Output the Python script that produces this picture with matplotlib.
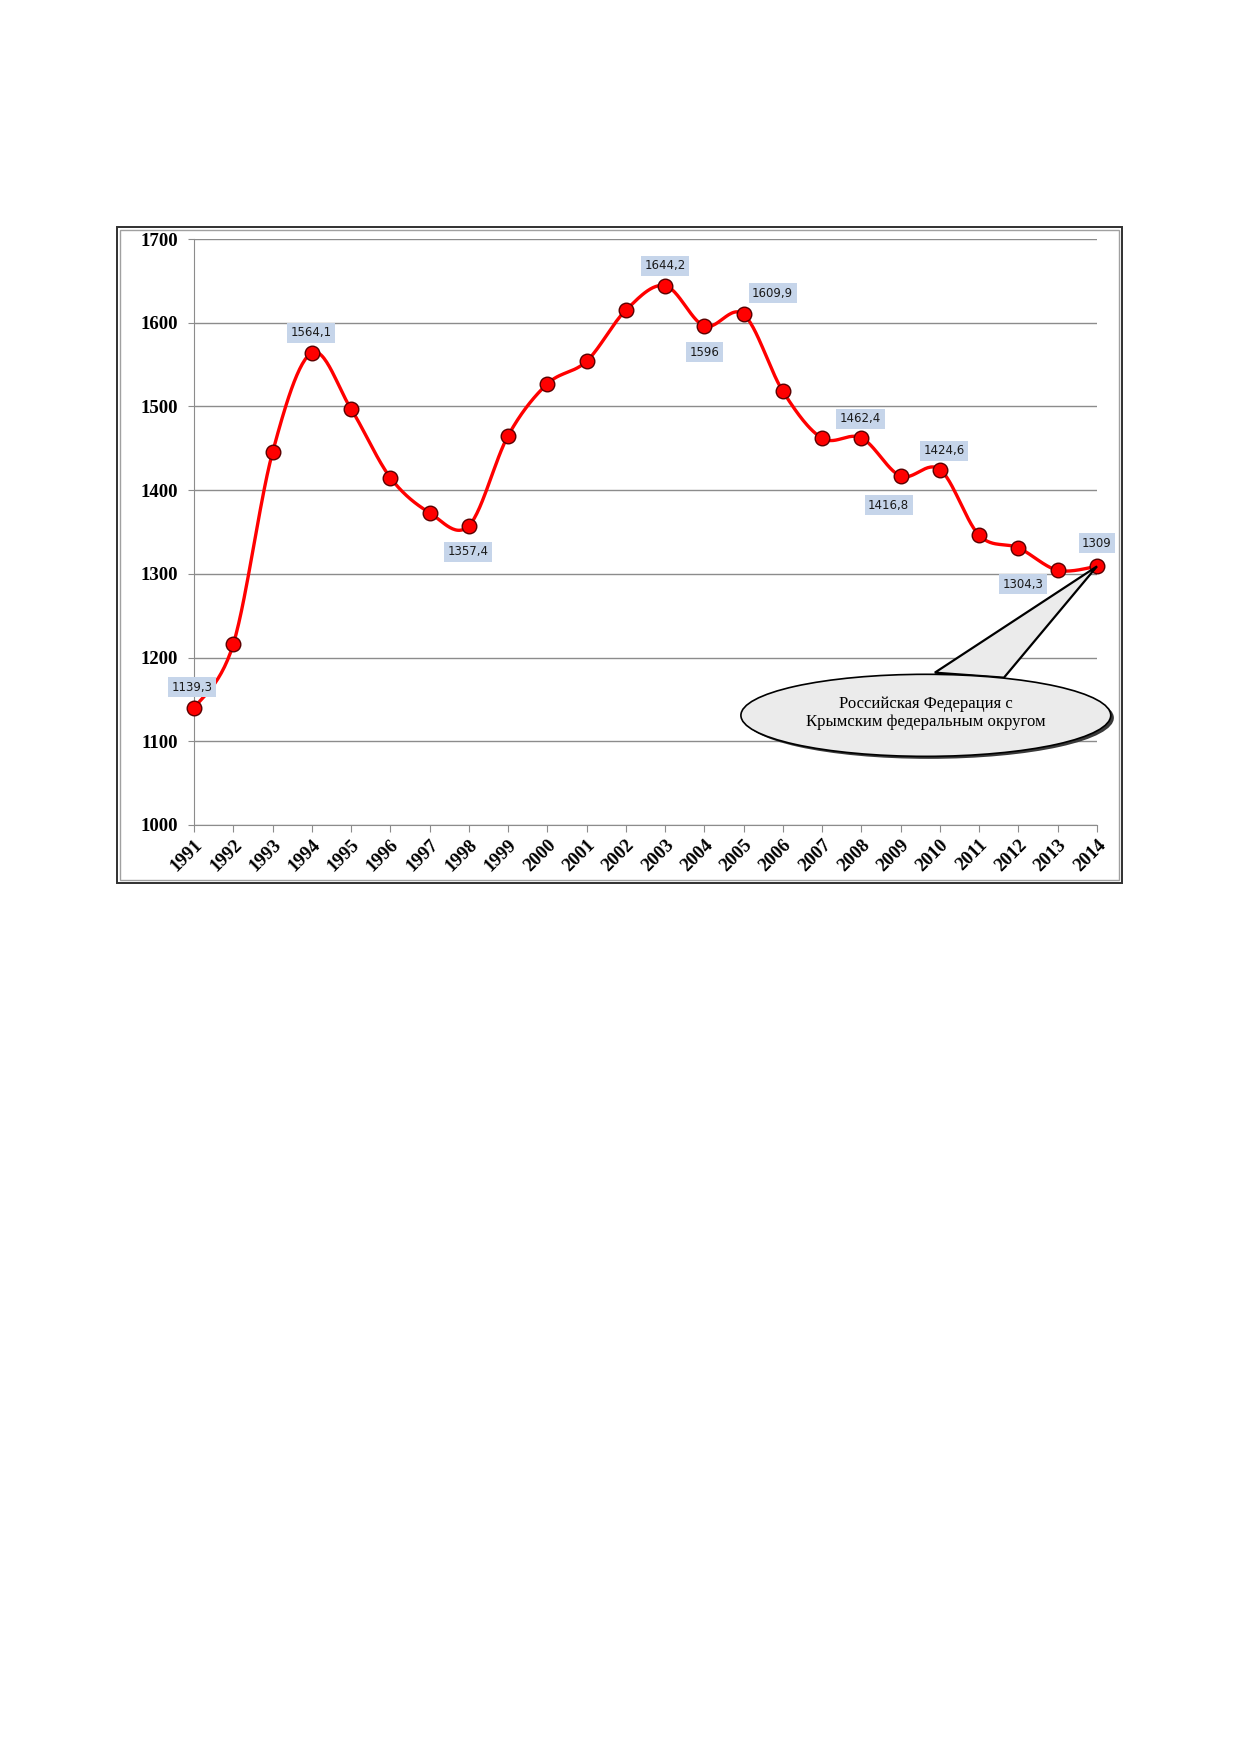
import numpy as np
import matplotlib
matplotlib.use("Agg")
import matplotlib.pyplot as plt
from matplotlib.patches import Rectangle, Ellipse, Polygon

# годы и значения (тыс.)
years = list(range(1991, 2015))
values = [1139.3, 1216, 1445, 1564.1, 1497, 1415, 1373, 1357.4, 1465, 1527,
          1554, 1615, 1644.2, 1596, 1609.9, 1518, 1462, 1462.4, 1416.8, 1424.6,
          1346, 1331, 1304.3, 1309]

# подписанные точки
label_years = [1991, 1994, 1998, 2003, 2004, 2005, 2008, 2009, 2010, 2013, 2014]
label_texts = ["1139,3", "1564,1", "1357,4", "1644,2", "1596", "1609,9",
               "1462,4", "1416,8", "1424,6", "1304,3", "1309"]
label_offsets = [(-2, 21), (-1, 20), (-1, -26), (0, 20), (0, -26), (29, 21),
                 (-1, 19), (-12, -29), (4, 19), (-35, -14), (0, 23)]

callout_text = "Российская Федерация с\nКрымским федеральным округом"


def smooth_curve(x, y, n=30):
    # сглаживание как в Excel (кривые Безье через соседние точки)
    x = np.asarray(x, float)
    y = np.asarray(y, float)
    px = np.concatenate([[x[0]], x, [x[-1]]])
    py = np.concatenate([[y[0]], y, [y[-1]]])
    xs, ys = [], []
    t = np.linspace(0, 1, n)
    for i in range(1, len(px) - 2):
        p0 = np.array([px[i], py[i]])
        p3 = np.array([px[i + 1], py[i + 1]])
        b1 = p0 + (np.array([px[i + 1], py[i + 1]]) - np.array([px[i - 1], py[i - 1]])) / 6
        b2 = p3 - (np.array([px[i + 2], py[i + 2]]) - np.array([px[i], py[i]])) / 6
        c = ((1 - t) ** 3)[:, None] * p0 + (3 * (1 - t) ** 2 * t)[:, None] * b1 \
            + (3 * (1 - t) * t ** 2)[:, None] * b2 + (t ** 3)[:, None] * p3
        xs.append(c[:, 0])
        ys.append(c[:, 1])
    return np.concatenate(xs), np.concatenate(ys)


fig = plt.figure(figsize=(12.39, 17.52), dpi=100)
W, H = 1239, 1752

# рамка диаграммы
fig.patches.append(Rectangle((117 / W, 1 - 883 / H), 1005 / W, 656 / H,
                             transform=fig.transFigure, fill=False,
                             edgecolor="#303030", lw=1.4))
fig.patches.append(Rectangle((120 / W, 1 - 880 / H), 999 / W, 650 / H,
                             transform=fig.transFigure, fill=False,
                             edgecolor="#a0a0a0", lw=1.0))

ax = fig.add_axes([194 / W, 1 - 825 / H, 903 / W, 586 / H])
ax.set_xlim(1991, 2014)
ax.set_ylim(1000, 1700)
ax.set_yticks(range(1000, 1701, 100))
ax.set_xticks(years)
ax.grid(axis="y", color="#8c8c8c", lw=1.0)
ax.set_axisbelow(True)
for s in ["top", "right"]:
    ax.spines[s].set_visible(False)
ax.spines["left"].set_color("#8c8c8c")
ax.spines["bottom"].set_color("#8c8c8c")
ax.tick_params(axis="y", length=4.5, color="#8c8c8c", pad=7)
ax.tick_params(axis="x", length=5, color="#8c8c8c", pad=3)

for lab in ax.get_yticklabels():
    lab.set_fontfamily("Liberation Serif")
    lab.set_fontweight("bold")
    lab.set_fontsize(13.5)
ax.set_xticklabels([str(y) for y in years], rotation=45, ha="right",
                   rotation_mode="anchor", fontfamily="Liberation Serif",
                   fontweight="bold", fontsize=13.5)

sx, sy = smooth_curve(years, values)
ax.plot(sx, sy, color="#ff0000", lw=2.4, zorder=3, clip_on=False)
ax.plot(years, values, "o", color="#ff0000", markeredgecolor="#5a0000",
        markeredgewidth=1.0, markersize=10.5, zorder=4, clip_on=False)

for yr, txt, (dx, dy) in zip(label_years, label_texts, label_offsets):
    v = values[years.index(yr)]
    ax.annotate(txt, (yr, v), xytext=(dx, dy), textcoords="offset pixels",
                ha="center", va="center", fontsize=8.5, color="#1a1a1a",
                family="DejaVu Sans", zorder=6,
                bbox=dict(boxstyle="square,pad=0.3", fc="#c6d5ea", ec="none"))

# выноска
tip = (2014, values[-1])
ax.add_patch(Polygon([(2009.87, 1182), tip, (2011.63, 1176)], closed=True,
                     fc="#ebebeb", ec="black", lw=1.6, zorder=5, clip_on=False))
ax.add_patch(Ellipse((2009.72, 1128), 9.42, 98, fc="#3a3a3a", ec="none",
                     zorder=5, clip_on=False))
ax.add_patch(Ellipse((2009.64, 1131), 9.42, 98, fc="#ebebeb", ec="black",
                     lw=1.2, zorder=5, clip_on=False))
ax.text(2009.64, 1134, callout_text, ha="center", va="center",
        fontsize=12, family="Liberation Serif", zorder=6,
        linespacing=1.2)

fig.savefig("out.png", dpi=100)
